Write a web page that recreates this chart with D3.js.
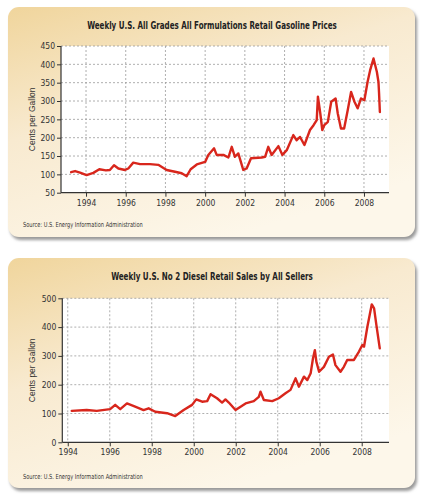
<!DOCTYPE html>
<html><head><meta charset="utf-8">
<script src="https://cdn.jsdelivr.net/npm/d3@7"></script>
<style>body{margin:0;background:#fff}svg{display:block}</style>
</head><body>
<script>
// ---- Data ----
const gasTitle = "Weekly U.S. All Grades All Formulations Retail Gasoline Prices";
const gasYears = [1993.25,1993.45,1993.7,1994.03,1994.37,1994.67,1995.0,1995.2,1995.41,1995.63,1995.96,1996.13,1996.38,1996.72,1997.22,1997.64,1998.06,1998.48,1998.82,1999.07,1999.27,1999.58,2000.0,2000.16,2000.45,2000.58,2000.92,2001.17,2001.34,2001.5,2001.67,2001.92,2002.09,2002.31,2002.85,2003.02,2003.18,2003.35,2003.69,2003.89,2004.11,2004.44,2004.61,2004.78,2005.0,2005.28,2005.46,2005.62,2005.68,2005.8,2005.9,2006.0,2006.18,2006.35,2006.57,2006.68,2006.84,2007.0,2007.18,2007.35,2007.52,2007.68,2007.85,2008.02,2008.18,2008.31,2008.48,2008.65,2008.73,2008.76,2008.8];
const gasValues = [106,109,105,98,104,114,111,112,125,116,112,116,132,128,128,126,112,107,103,95,114,127,134,153,171,153,153,146,175,148,157,112,116,144,146,148,175,153,177,153,166,207,193,202,180,221,234,248,312,266,221,234,243,298,307,266,225,225,275,325,298,280,307,302,352,384,416,379,352,320,270];
const gasYTicks = [50,100,150,200,250,300,350,400,450];

const dslTitle = "Weekly U.S. No 2 Diesel Retail Sales by All Sellers";
const dslYears = [1994.19,1994.9,1995.38,1996.02,1996.26,1996.5,1996.82,1997.21,1997.61,1997.85,1998.17,1998.73,1999.12,1999.52,1999.92,2000.12,2000.4,2000.64,2000.8,2001.11,2001.35,2001.51,2001.67,2001.99,2002.47,2002.86,2003.1,2003.18,2003.34,2003.74,2004.05,2004.37,2004.61,2004.85,2005.01,2005.25,2005.41,2005.57,2005.68,2005.77,2005.84,2005.97,2006.2,2006.44,2006.63,2006.75,2006.99,2007.15,2007.31,2007.63,2007.87,2008.03,2008.11,2008.27,2008.38,2008.48,2008.59,2008.7,2008.86];
const dslValues = [109,112,109,115,130,115,135,124,112,118,106,101,91,112,130,149,141,143,167,153,138,149,138,112,135,143,158,176,147,143,153,170,182,222,193,228,216,240,292,320,280,245,262,297,305,268,245,262,286,286,315,338,332,401,442,479,465,407,326];
const dslYTicks = [0,100,200,300,400,500];

const xTickYears = [1994,1996,1998,2000,2002,2004,2006,2008];
const yLabel = "Cents per Gallon";
const sourceText = "Source: U.S. Energy Information Administration";

// ---- Drawing ----
const W = 426, H = 500;
const svg = d3.select("body").append("svg").attr("width", W).attr("height", H);
const defs = svg.append("defs");
const grad = defs.append("linearGradient").attr("id","cardGrad")
  .attr("x1","0").attr("y1","0").attr("x2","0.55").attr("y2","1");
grad.append("stop").attr("offset","0").attr("stop-color","#f0d59c");
grad.append("stop").attr("offset","0.45").attr("stop-color","#f8ead0");
grad.append("stop").attr("offset","1").attr("stop-color","#fdf7ea");
const flt = defs.append("filter").attr("id","shadow").attr("x","-5%").attr("y","-5%").attr("width","115%").attr("height","120%");
flt.append("feGaussianBlur").attr("stdDeviation","1.6");

const FONT = "'Liberation Sans Narrow','Arial Narrow','DejaVu Sans Condensed',sans-serif";

// fit text horizontally to a target width by scaling (keeps it real text)
function fitText(sel, cx, cy, width, anchor) {
  const node = sel.node();
  const w = node.getComputedTextLength();
  const s = width / w;
  sel.attr("x", 0).attr("y", 0).attr("text-anchor", anchor)
     .attr("transform", `translate(${cx},${cy}) scale(${s},1)`);
}

function drawChart(cfg) {
  const g = svg.append("g");
  g.append("rect").attr("x", cfg.card[0]+2).attr("y", cfg.card[1]+3)
    .attr("width", cfg.card[2]-cfg.card[0]).attr("height", cfg.card[3]-cfg.card[1])
    .attr("rx", 11).attr("fill", "#9a9a9a").attr("filter","url(#shadow)");
  g.append("rect").attr("x", cfg.card[0]).attr("y", cfg.card[1])
    .attr("width", cfg.card[2]-cfg.card[0]).attr("height", cfg.card[3]-cfg.card[1])
    .attr("rx", 11).attr("fill", "url(#cardGrad)");

  const x = d3.scaleLinear().domain(cfg.xDomain).range([cfg.plot.left, cfg.plot.right]);
  const y = d3.scaleLinear().domain(cfg.yDomain).range([cfg.plot.bottom, cfg.plot.top]);

  g.append("rect").attr("x", cfg.plot.left).attr("y", cfg.plot.top)
    .attr("width", cfg.plot.right-cfg.plot.left).attr("height", cfg.plot.bottom-cfg.plot.top)
    .attr("fill", "#fff");

  g.append("g").selectAll("line").data(cfg.yTicks.filter(v => v !== cfg.yDomain[0])).join("line")
    .attr("x1", cfg.plot.left).attr("x2", cfg.plot.right)
    .attr("y1", d => y(d)).attr("y2", d => y(d))
    .attr("stroke", "#9a9a9a").attr("stroke-width", 0.8).attr("stroke-dasharray", "2,2");
  g.append("g").selectAll("line").data(xTickYears).join("line")
    .attr("x1", d => x(d)).attr("x2", d => x(d))
    .attr("y1", cfg.plot.top).attr("y2", cfg.plot.bottom)
    .attr("stroke", "#9a9a9a").attr("stroke-width", 0.8).attr("stroke-dasharray", "2,2");

  const yAxis = d3.axisLeft(y).tickValues(cfg.yTicks).tickSize(4).tickPadding(2).tickFormat(d3.format("d"));
  const ya = g.append("g").attr("transform", `translate(${cfg.plot.left},0)`).call(yAxis);
  const xAxis = d3.axisBottom(x).tickValues(xTickYears).tickSize(4).tickPadding(3).tickFormat(d3.format("d"));
  const xa = g.append("g").attr("transform", `translate(0,${cfg.plot.bottom})`).call(xAxis);
  [ya, xa].forEach(a => {
    a.select(".domain").attr("stroke", "#333").attr("stroke-width", 1.2);
    a.selectAll(".tick line").attr("stroke", "#333");
    a.selectAll(".tick text").attr("fill", "#333").style("font-family", FONT).style("font-size", "8.5px");
  });
  ya.select(".domain").attr("d", `M0,${cfg.plot.bottom}V${cfg.plot.top}`);
  xa.select(".domain").attr("d", `M${cfg.plot.left},0H${cfg.plot.right}`);

  const pts = cfg.years.map((yr, i) => [yr, cfg.values[i]]);
  g.append("path").datum(pts)
    .attr("d", d3.line().x(d => x(d[0])).y(d => y(d[1])))
    .attr("fill", "none").attr("stroke", "#d8261c").attr("stroke-width", 2.4)
    .attr("stroke-linejoin", "round").attr("stroke-linecap", "round");

  const t = g.append("text")
    .style("font-family", FONT).style("font-size", "11px").style("font-weight", "bold").attr("fill", "#222")
    .text(cfg.title);
  fitText(t, cfg.titleX, cfg.titleY, cfg.titleLen, "middle");

  g.append("text").attr("transform", `translate(${cfg.yLabelX},${(cfg.plot.top+cfg.plot.bottom)/2}) rotate(-90)`)
    .attr("text-anchor", "middle").style("font-family", "'Liberation Sans',Arial,sans-serif").style("font-size", "8.5px").attr("fill", "#333")
    .text(yLabel);

  const s = g.append("text")
    .style("font-family", FONT).style("font-size", "7px").attr("fill", "#333")
    .text(sourceText);
  fitText(s, 23, cfg.sourceY, 120, "start");
}

drawChart({
  card: [8, 7, 415, 237],
  plot: {left: 61, right: 389, top: 46, bottom: 192.7},
  xDomain: [1992.74, 2009.26], yDomain: [50, 450], yTicks: gasYTicks,
  years: gasYears, values: gasValues,
  title: gasTitle, titleX: 212, titleY: 28.5, titleLen: 250,
  yLabelX: 35, sourceY: 226.5
});
drawChart({
  card: [8, 258, 415, 488],
  plot: {left: 62.3, right: 389, top: 298.3, bottom: 442.3},
  xDomain: [1993.74, 2009.3], yDomain: [0, 500], yTicks: dslYTicks,
  years: dslYears, values: dslValues,
  title: dslTitle, titleX: 212, titleY: 280, titleLen: 202,
  yLabelX: 35, sourceY: 478.5
});
</script>
</body></html>
